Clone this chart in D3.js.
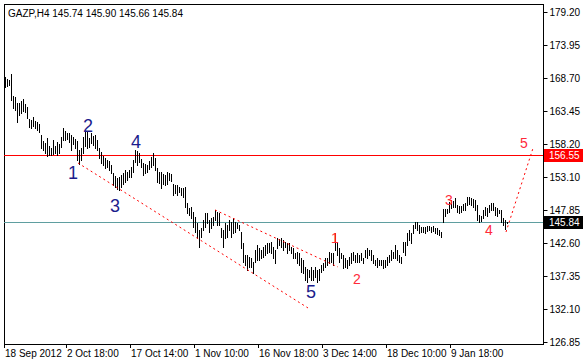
<!DOCTYPE html>
<html>
<head>
<meta charset="utf-8">
<script src="https://cdn.jsdelivr.net/npm/d3@7/dist/d3.min.js"></script>
<style>
  body { margin: 0; background: #fff; }
  svg { display: block; font-family: "Liberation Sans", Arial, sans-serif; }
</style>
</head>
<body>
<svg id="chart"></svg>
<script>
// GAZP H4 bars (high / low of each bar, oldest first)
const symbol = "GAZP,H4";
const lastBar = [145.74, 145.90, 145.66, 145.84]; // open high low close

const highs = [
  168.9,168.5,168.4,169.4,165.9,165.7,164.8,164.8,165.1,165.4,164.6,164.1,162.2,162.1,162.5,161.9,161.7,161.4,159.7,158.7,
  158.4,159.2,158.0,157.6,158.9,158.0,158.6,158.3,159.4,160.8,160.3,160.0,160.0,159.7,159.4,159.1,158.7,157.3,157.6,159.4,
  160.3,160.2,159.2,160.0,159.5,159.7,158.9,157.6,157.0,156.4,156.0,155.7,155.6,154.9,153.7,153.2,152.9,153.0,153.3,153.6,
  154.1,153.8,154.1,154.6,155.7,157.3,157.1,156.8,155.9,155.2,155.1,154.9,155.6,156.2,156.8,156.0,154.5,153.8,153.8,153.5,
  153.3,153.8,153.6,153.5,
  151.9,151.8,151.8,151.4,151.3,151.3,151.4,148.9,148.1,148.3,147.5,146.7,145.7,144.6,144.9,146.2,147.3,147.3,146.2,146.5,
  146.7,147.8,147.5,147.3,144.9,144.6,145.7,145.4,146.2,145.9,146.5,145.9,145.7,145.4,144.3,142.6,140.7,140.7,140.3,140.2,
  139.5,141.5,142.2,
  141.8,141.5,141.9,142.2,142.6,142.6,142.7,141.9,141.5,143.3,143.2,143.3,143.0,142.7,142.6,142.6,141.9,141.8,141.0,141.1,
  141.0,140.2,139.9,138.7,138.5,138.2,138.7,138.2,138.7,138.2,138.5,139.1,139.4,140.2,140.2,141.1,141.0,141.0,144.2,142.7,
  141.8,141.0,
  140.6,140.2,139.9,140.3,141.0,141.1,140.7,141.0,140.7,141.0,140.2,141.5,141.8,141.5,141.5,140.7,139.9,140.2,139.9,139.9,
  139.9,139.9,140.3,140.7,141.5,141.1,142.2,141.5,140.7,140.3,142.7,142.7,144.2,144.6,144.2,145.4,145.9,145.9,145.4,145.1,
  145.1,145.1,145.2,145.2,145.1,145.2,144.9,144.9,144.6,144.3,
  148.0,147.9,148.0,149.0,149.4,149.2,149.7,148.6,148.4,148.4,148.7,148.9,149.8,149.8,149.7,149.5,149.4,148.6,147.0,146.8,
  147.8,148.3,148.1,148.6,148.9,148.9,148.3,148.1,147.8,147.8,146.5,146.2,145.90
];
const lows = [
  167.3,167.5,167.6,165.2,164.0,163.7,161.7,162.9,163.2,163.5,163.3,162.4,161.0,160.8,161.1,160.8,160.5,160.2,157.6,157.3,
  156.8,156.4,156.5,156.5,156.7,156.8,156.5,156.8,157.8,158.9,158.9,159.0,158.6,157.3,158.3,157.6,155.7,155.1,155.7,156.8,
  157.9,157.6,157.8,158.4,158.1,157.6,157.3,156.0,155.2,154.9,154.4,154.6,154.1,153.7,151.8,151.4,151.1,151.0,151.4,151.9,
  152.2,152.5,153.0,153.0,153.8,155.4,154.9,155.4,154.6,153.3,153.7,153.8,154.3,154.6,154.9,154.1,152.2,152.1,151.3,151.9,
  151.8,151.9,152.5,152.4,
  150.2,150.5,150.2,150.6,150.2,149.8,148.3,147.3,147.0,146.5,145.1,144.3,143.4,141.9,143.5,144.6,145.1,145.7,144.3,144.9,
  145.4,146.2,145.4,145.4,143.5,141.9,143.4,143.5,144.6,143.5,144.1,144.3,144.9,144.6,141.7,139.5,139.1,138.3,138.7,138.7,
  137.8,139.5,139.9,
  139.9,140.2,140.3,140.7,141.0,141.1,141.0,140.2,139.4,141.8,142.2,141.9,141.5,141.9,141.0,141.5,141.0,140.2,140.2,139.4,
  139.1,138.0,137.8,136.7,136.4,137.2,136.7,136.7,137.2,136.4,136.7,137.9,138.3,138.7,139.1,139.4,139.5,139.1,141.5,140.7,
  139.5,140.2,
  138.6,138.7,138.6,139.1,139.4,139.9,139.5,139.5,139.5,139.9,139.4,140.3,140.2,140.7,139.9,139.4,139.1,138.7,139.1,139.1,
  138.6,138.7,139.1,139.5,139.9,140.2,140.2,139.9,139.5,139.4,141.1,140.7,142.2,143.0,142.6,144.2,144.9,144.6,144.1,144.3,
  144.3,144.1,144.4,144.6,144.3,144.4,144.1,144.0,143.8,143.5,
  145.9,146.8,147.3,147.5,148.1,148.3,148.3,147.5,147.3,147.5,147.8,147.8,148.6,148.7,148.6,148.3,147.8,146.2,145.9,146.0,
  146.5,147.0,146.8,147.5,147.8,147.8,147.0,146.8,147.3,145.9,145.4,144.8,145.66
];

const priceTicks = ["179.20","173.95","168.70","163.45","158.20","153.10","147.85","142.60","137.35","132.10","126.85"];
const priceRange = [126.85, 179.20];

// [bar index, label]
const dateLabels = [
  [0, "18 Sep 2012"], [31, "2 Oct 18:00"], [63, "17 Oct 14:00"], [95, "1 Nov 10:00"],
  [127, "16 Nov 18:00"], [159, "3 Dec 14:00"], [191, "18 Dec 10:00"], [223, "9 Jan 18:00"]
];

const levels = [156.55, 145.84];

// dotted trend lines, [bar index, price] pairs
const trendLines = [
  [[36.5, 155.25], [151.5, 132.25]],
  [[105, 147.8], [166.5, 138.75]],
  [[250.5, 144.3], [264, 157.6]]
];

// wave counts: [text, bar index, price at baseline]
const bigWaves = [["1", 34, 152.7], ["2", 41.5, 160.1], ["3", 55, 147.5], ["4", 65.5, 157.6], ["5", 153, 133.8]];
const smallWaves = [["1", 165, 142.5], ["2", 176, 136.1], ["3", 222, 148.65], ["4", 242, 143.8], ["5", 259.5, 157.6]];

const width = 583, height = 363;
const plot = { left: 4, top: 4, right: 543, bottom: 344 };

const svg = d3.select('#chart').attr('width', width).attr('height', height);

const x = d3.scaleLinear().domain([0, 269.5]).range([plot.left + 1, plot.right + 1]);
const y = d3.scaleLinear().domain(priceRange).range([342, 12]);

// frame
svg.append('rect')
  .attr('x', plot.left + 0.5).attr('y', plot.top + 0.5)
  .attr('width', plot.right - plot.left).attr('height', plot.bottom - plot.top)
  .attr('fill', 'none').attr('stroke', '#000');

// horizontal levels
const levelColors = ['#ff0000', '#5f9ea0'];
svg.append('g').selectAll('line').data(levels).enter().append('line')
  .attr('x1', plot.left).attr('x2', plot.right)
  .attr('y1', d => Math.round(y(d)) + 0.5).attr('y2', d => Math.round(y(d)) + 0.5)
  .attr('stroke', (d, i) => levelColors[i]);

// bars
svg.append('g').attr('shape-rendering', 'crispEdges').selectAll('rect')
  .data(highs).enter().append('rect')
  .attr('x', (d, i) => x(i))
  .attr('y', d => Math.round(y(d)))
  .attr('width', 1)
  .attr('height', (d, i) => Math.max(1, Math.round(y(lows[i])) - Math.round(y(d)) + 1))
  .attr('fill', '#000');

// trend lines
const line = d3.line().x(d => x(d[0])).y(d => y(d[1]));
svg.append('g').selectAll('path').data(trendLines).enter().append('path')
  .attr('d', line)
  .attr('fill', 'none')
  .attr('stroke', '#ff0000')
  .attr('stroke-dasharray', '2,3');

// wave labels
svg.append('g').selectAll('text').data(bigWaves).enter().append('text')
  .attr('x', d => x(d[1])).attr('y', d => y(d[2]))
  .attr('text-anchor', 'middle')
  .attr('font-size', 18)
  .attr('fill', '#1c1c8c')
  .text(d => d[0]);

svg.append('g').selectAll('text').data(smallWaves).enter().append('text')
  .attr('x', d => x(d[1])).attr('y', d => y(d[2]))
  .attr('text-anchor', 'middle')
  .attr('font-size', 14)
  .attr('fill', '#ff2a3a')
  .text(d => d[0]);

// price axis
const tickVals = d3.range(priceTicks.length).map(k => priceRange[1] - k * (priceRange[1] - priceRange[0]) / (priceTicks.length - 1));
const axis = svg.append('g')
  .attr('transform', `translate(${plot.right + 0.5},0)`)
  .call(d3.axisRight(y).tickValues(tickVals).tickSize(4).tickPadding(2).tickFormat((d, i) => priceTicks[i]));
axis.select('.domain').remove();
axis.selectAll('text').attr('font-size', 10).attr('font-family', '"Liberation Sans", Arial, sans-serif').attr('fill', '#000');

// price tags on the axis
const tagColors = ['#ff0000', '#000000'];
const tags = svg.append('g').selectAll('g').data(levels).enter().append('g');
tags.append('rect')
  .attr('x', plot.right + 1).attr('y', d => Math.round(y(d)) - 6)
  .attr('width', width - plot.right - 1).attr('height', 13)
  .attr('fill', (d, i) => tagColors[i]);
tags.append('text')
  .attr('x', plot.right + 6).attr('y', d => Math.round(y(d)) + 4)
  .attr('font-size', 10).attr('fill', '#fff')
  .text(d => d.toFixed(2));

// time axis
const dates = svg.append('g').selectAll('g').data(dateLabels).enter().append('g');
dates.append('line')
  .attr('x1', d => x(d[0]) - 0.5).attr('x2', d => x(d[0]) - 0.5)
  .attr('y1', plot.bottom).attr('y2', plot.bottom + 4)
  .attr('stroke', '#000');
dates.append('text')
  .attr('x', d => x(d[0]))
  .attr('y', 357)
  .attr('font-size', 10)
  .text(d => d[1]);

// title
svg.append('text')
  .attr('x', 8).attr('y', 17)
  .attr('font-size', 10)
  .text(symbol + '  ' + lastBar.map(v => v.toFixed(2)).join(' '));
</script>
</body>
</html>
